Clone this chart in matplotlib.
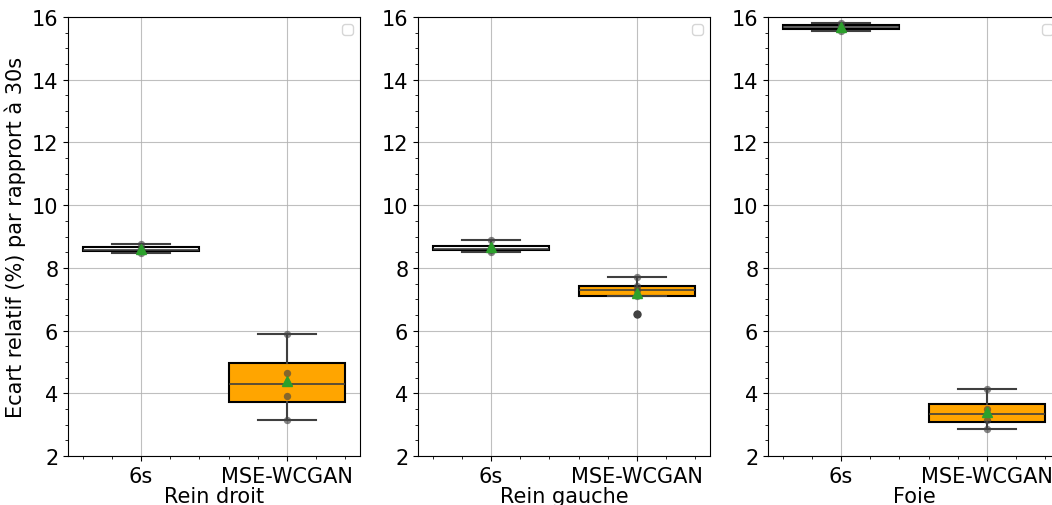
import matplotlib
matplotlib.use("Agg")
import matplotlib.pyplot as plt
import numpy as np

# --- Data ---
categories = ["6s", "MSE-WCGAN"]
organs = ["Rein droit", "Rein gauche", "Foie"]

rein_droit_6s = [8.48, 8.55, 8.62, 8.75]
rein_droit_gan = [3.15, 3.92, 4.65, 5.90]
rein_gauche_6s = [8.50, 8.58, 8.65, 8.90]
rein_gauche_gan = [6.52, 7.10, 7.30, 7.42, 7.70]
foie_6s = [15.55, 15.65, 15.72, 15.82]
foie_gan = [2.85, 3.15, 3.50, 4.15]

panels = [
    (rein_droit_6s, rein_droit_gan),
    (rein_gauche_6s, rein_gauche_gan),
    (foie_6s, foie_gan),
]
box_colors = ["white", "orange"]

fig = plt.figure(figsize=(10.52, 5.06), dpi=100)
lefts = [68, 418, 768]
for k, (left, organ, data) in enumerate(zip(lefts, organs, panels)):
    ax = fig.add_axes([left / 1052, 1 - 457 / 506, 292 / 1052, 439 / 506])
    bp = ax.boxplot(
        list(data),
        positions=[0, 1],
        widths=0.8,
        patch_artist=True,
        showmeans=True,
        meanprops=dict(marker="^", markerfacecolor="tab:green",
                       markeredgecolor="tab:green", markersize=7),
        medianprops=dict(color="#3f3f3f", linewidth=1.2),
        whiskerprops=dict(color="#3f3f3f", linewidth=1.5),
        capprops=dict(color="#3f3f3f", linewidth=1.5),
        flierprops=dict(marker="o", markerfacecolor="#3f3f3f",
                        markeredgecolor="#3f3f3f", markersize=5),
        zorder=2,
    )
    for patch, c in zip(bp["boxes"], box_colors):
        patch.set_facecolor(c)
        patch.set_edgecolor("black")
        patch.set_linewidth(1.5)
    for m in bp["means"]:
        m.set_zorder(4)
    # individual points
    for i, vals in enumerate(data):
        ax.scatter(np.full(len(vals), i), vals, s=28, color="#444444",
                   alpha=0.65, linewidths=0, zorder=3)

    ax.set_xlim(-0.5, 1.5)
    ax.set_ylim(2, 16)
    ax.set_yticks(range(2, 17, 2))
    ax.set_xticks([0, 1])
    ax.set_xticklabels(categories)
    ax.minorticks_on()
    ax.grid(True, which="major", color="#b0b0b0", linewidth=0.8, alpha=0.8, zorder=0)
    ax.set_axisbelow(True)
    ax.tick_params(labelsize=15)
    ax.set_xlabel(organ, fontsize=15, labelpad=0)
    if k == 0:
        ax.set_ylabel("Ecart relatif (%) par rapprort à 30s", fontsize=15)
    ax.legend(handles=[], loc="upper right")

fig.savefig("out.png", dpi=100)
